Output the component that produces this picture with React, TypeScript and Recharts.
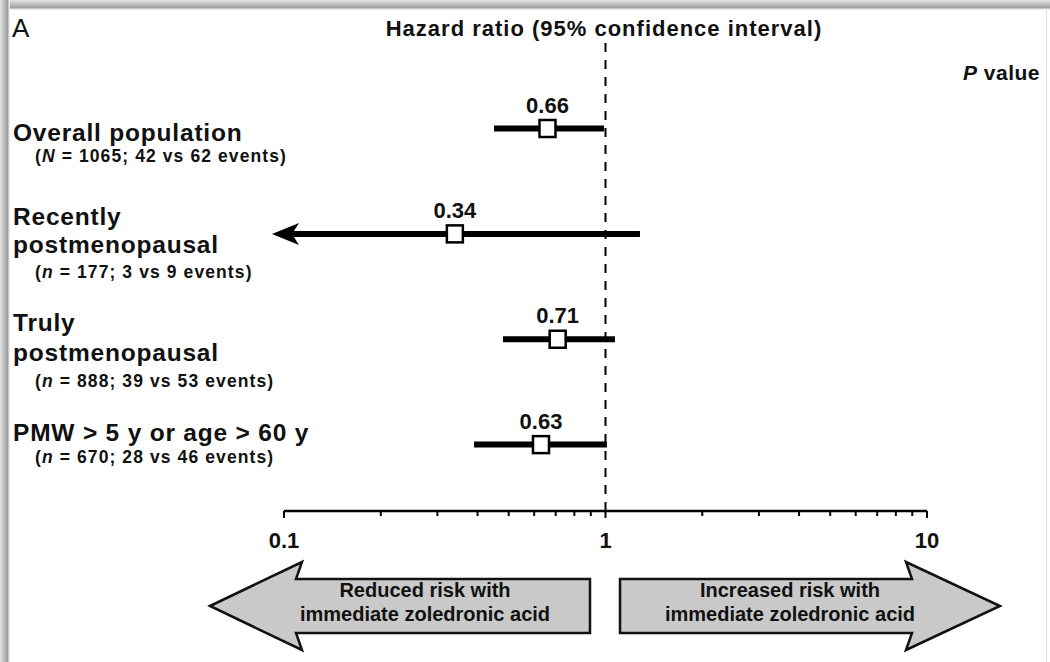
import { ScatterChart, Scatter, XAxis, YAxis, ReferenceLine } from 'recharts';

// forest plot: hazard ratio per subgroup
const rowTitles = [['Overall population'], ['Recently', 'postmenopausal'], ['Truly', 'postmenopausal'], ['PMW > 5 y or age > 60 y']];
const sampleSymbol = ['N', 'n', 'n', 'n'];
const sampleSize = ['1065', '177', '888', '670'];
const eventCounts = ['42 vs 62', '3 vs 9', '39 vs 53', '28 vs 46'];
const hazardRatio = [0.66, 0.34, 0.71, 0.63];
const ciLower = [0.45, 0.1, 0.48, 0.39];
const ciUpper = [0.99, 1.28, 1.07, 1.01];
const lowerTruncated = [false, true, false, false];
const pValues = ['0.0375', '0.0942', '0.0998', '0.0516'];
const xTicks = [0.1, 0.2, 0.3, 0.4, 0.5, 0.6, 0.7, 0.8, 0.9, 1, 2, 3, 4, 5, 6, 7, 8, 9, 10];
const xTickLabels = ['0.1', '1', '10'];

const W = 1050;
const H = 662;
const font = '"Liberation Sans", Arial, Helvetica, sans-serif';

// vertical offsets of each label line relative to the row centre
const titleOffsets = [[3], [-18], [-17], [-13]];
const titleOffsets2 = [[], [10], [13], []];
const subOffsets = [27, 38, 42, 12];

const rowIndex = rowTitles.map((_, i) => i);
const points = hazardRatio.map((v, i) => ({ x: v, y: i, label: v.toFixed(2) }));
const arrows = rowIndex.filter((i) => lowerTruncated[i]).map((i) => ({ x: ciLower[i], y: i }));

function SquareMark(props: any) {
  const { cx, cy, payload } = props;
  return (
    <g>
      <rect x={cx - 8} y={cy - 8.5} width={16} height={17} fill="#fff" stroke="#000" strokeWidth={2.5} />
      <text x={cx} y={cy - 24 + 8} textAnchor="middle" fontFamily={font} fontWeight={700} fontSize={22} fill="#111">
        {payload.label}
      </text>
    </g>
  );
}

function ArrowMark(props: any) {
  const { cx, cy } = props;
  return <polygon points={`${cx - 12},${cy} ${cx + 15},${cy - 11} ${cx + 8},${cy} ${cx + 15},${cy + 11}`} fill="#000" />;
}

function Empty() {
  return <g />;
}

function XTick(props: any) {
  const { x, y, payload } = props;
  const v = payload.value;
  const label = xTickLabels.find((t) => Number(t) === v);
  const major = v === 0.1 || v === 1 || v === 10;
  return (
    <g>
      <line x1={x} x2={x} y1={y} y2={y + (major ? 7 : 5)} stroke="#000" strokeWidth={2} />
      {label && (
        <text x={x} y={y + 37} textAnchor="middle" fontFamily={font} fontWeight={700} fontSize={22} fill="#111">
          {label}
        </text>
      )}
    </g>
  );
}

function RowLabel(props: any) {
  const { y, payload } = props;
  const i = payload.value;
  if (rowTitles[i] === undefined) return <g />;
  const lines = rowTitles[i];
  const offs = [titleOffsets[i][0], titleOffsets2[i][0]];
  return (
    <g fontFamily={font} fontWeight={700} fill="#111">
      {lines.map((t, k) => (
        <text key={k} x={13} y={y + offs[k] + 9} fontSize={24.5} letterSpacing={0.8}>
          {t}
        </text>
      ))}
      <text x={35} y={y + subOffsets[i] + 6} fontSize={17.5} letterSpacing={1.1}>
        (<tspan fontStyle="italic">{sampleSymbol[i]}</tspan>
        {` = ${sampleSize[i]}; ${eventCounts[i]} events)`}
      </text>
    </g>
  );
}

function PTick(props: any) {
  const { y, payload } = props;
  const i = payload.value;
  if (pValues[i] === undefined) return <g />;
  return (
    <text x={1040} y={y + 4} textAnchor="end" fontFamily={font} fontWeight={700} fontSize={21} letterSpacing={1} fill="#111">
      {pValues[i]}
    </text>
  );
}

export default function App() {
  return (
    <div style={{ position: 'absolute', left: 0, top: 0, width: W, height: H, background: '#fff', overflow: 'hidden' }}>
      {/* frame shadow */}
      <div style={{ position: 'absolute', left: 0, top: 0, width: W, height: 10, background: 'linear-gradient(to bottom, #e4e4e4, #a0a0a0 75%, #fff)' }} />
      <div style={{ position: 'absolute', left: 0, top: 0, width: 10, height: H, background: 'linear-gradient(to right, #e4e4e4, #a0a0a0 75%, #fff)' }} />
      <div style={{ position: 'absolute', left: 1046, top: 8, width: 1, height: H, background: '#e2e2e2' }} />

      <div style={{ position: 'absolute', left: 0, top: 0 }}>
        <ScatterChart width={W} height={H} margin={{ top: 40, right: 0, bottom: 111, left: 0 }}>
          <XAxis
            type="number"
            dataKey="x"
            scale="log"
            domain={[0.1, 10]}
            ticks={xTicks}
            interval={0}
            height={40}
            tickSize={0}
            tickMargin={0}
            tickLine={false}
            axisLine={{ stroke: '#000', strokeWidth: 2.5 }}
            tick={<XTick />}
          />
          <YAxis
            yAxisId="rows"
            type="number"
            dataKey="y"
            domain={[-0.84, 3.63]}
            reversed
            ticks={rowIndex}
            interval={0}
            width={284}
            axisLine={false}
            tickLine={false}
            tick={<RowLabel />}
          />
          <YAxis
            yAxisId="p"
            orientation="right"
            type="number"
            domain={[-0.84, 3.63]}
            reversed
            ticks={rowIndex}
            interval={0}
            width={123}
            axisLine={false}
            tickLine={false}
            tick={<PTick />}
          />
          <ReferenceLine yAxisId="rows" x={1} stroke="#000" strokeWidth={2} strokeDasharray="9 8" />
          {rowIndex.map((i) => (
            <Scatter
              key={`ci-${i}`}
              yAxisId="rows"
              data={[
                { x: ciLower[i], y: i },
                { x: ciUpper[i], y: i },
              ]}
              line={{ stroke: '#000', strokeWidth: 6 }}
              lineType="joint"
              shape={<Empty />}
              isAnimationActive={false}
            />
          ))}
          <Scatter yAxisId="rows" data={arrows} shape={<ArrowMark />} isAnimationActive={false} />
          <Scatter yAxisId="rows" data={points} shape={<SquareMark />} isAnimationActive={false} />
        </ScatterChart>
      </div>

      <svg width={W} height={H} style={{ position: 'absolute', left: 0, top: 0, pointerEvents: 'none' }}>
        <text x={12} y={37} fontFamily={font} fontSize={26} fill="#111">A</text>
        <text x={604} y={36} textAnchor="middle" fontFamily={font} fontWeight={700} fontSize={22} letterSpacing={1} fill="#111">
          Hazard ratio (95% confidence interval)
        </text>
        <text x={1040} y={80} textAnchor="end" fontFamily={font} fontWeight={700} fontSize={21} letterSpacing={0.5} fill="#111">
          <tspan fontStyle="italic">P</tspan> value
        </text>

        <polygon
          points="210,606 302,562 296,579 590,579 590,633 296,633 302,650"
          fill="#c9c9c9"
          stroke="#111"
          strokeWidth={2.5}
          strokeLinejoin="miter"
        />
        <polygon
          points="620,579 912,579 906,562 1000,606 906,650 912,633 620,633"
          fill="#c9c9c9"
          stroke="#111"
          strokeWidth={2.5}
          strokeLinejoin="miter"
        />
        <g fontFamily={font} fontWeight={700} fontSize={20} fill="#111" textAnchor="middle">
          <text x={425} y={597}>Reduced risk with</text>
          <text x={425} y={621}>immediate zoledronic acid</text>
          <text x={790} y={597}>Increased risk with</text>
          <text x={790} y={621}>immediate zoledronic acid</text>
        </g>
      </svg>
    </div>
  );
}
